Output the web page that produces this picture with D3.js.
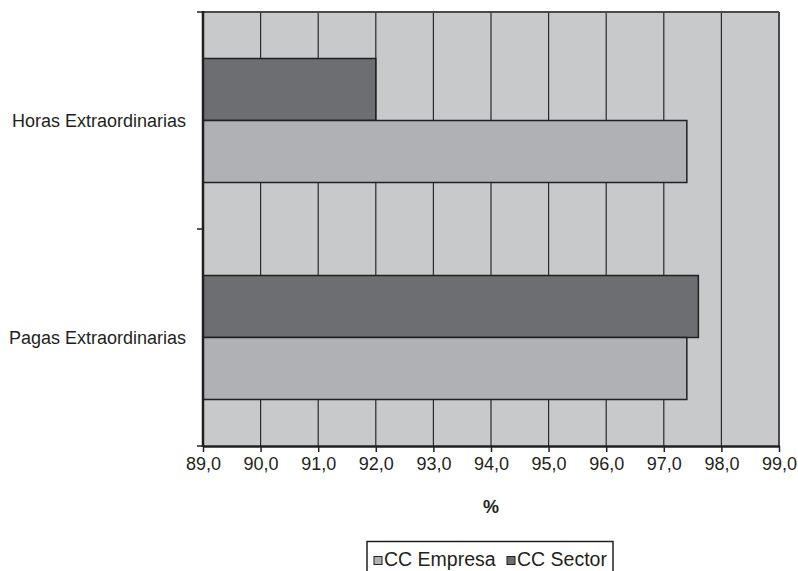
<!DOCTYPE html>
<html>
<head>
<meta charset="utf-8">
<script src="https://cdn.jsdelivr.net/npm/d3@7"></script>
<style>
  body { margin: 0; background: #fff; }
  svg { display: block; font-family: "Liberation Sans", Arial, sans-serif; }
</style>
</head>
<body>
<svg id="chart" width="798" height="571"></svg>
<script>
// Categories from top to bottom
const categories = ["Horas Extraordinarias", "Pagas Extraordinarias"];
// Series (drawn top to bottom within each category: Sector, then Empresa)
const seriesNames = ["CC Empresa", "CC Sector"];
const empresaValues = [97.4, 97.4];
const sectorValues = [92.0, 97.6];
const xTickValues = [89, 90, 91, 92, 93, 94, 95, 96, 97, 98, 99];
const axisTitle = "%";

const colors = { "CC Empresa": "#b0b1b4", "CC Sector": "#6d6e71" };

const svg = d3.select("#chart");
const margin = { left: 203, right: 19, top: 12, bottom: 125 };
const W = 798, H = 571;
const plotW = W - margin.left - margin.right;
const plotH = H - margin.top - margin.bottom;

const x = d3.scaleLinear().domain([89, 99]).range([0, plotW]);
const y = d3.scaleBand().domain(categories).range([0, plotH]).paddingInner(0).paddingOuter(0);
const inner = d3.scaleBand().domain(["CC Sector", "CC Empresa"])
  .range([0, y.bandwidth()]).paddingInner(0).paddingOuter(0.75);

const g = svg.append("g").attr("transform", `translate(${margin.left},${margin.top})`);

// plot background
g.append("rect").attr("x", 0).attr("y", 0).attr("width", plotW).attr("height", plotH)
  .attr("fill", "#c8c9cb");

// vertical gridlines
g.selectAll("line.grid").data(xTickValues.slice(1, -1)).join("line")
  .attr("class", "grid")
  .attr("x1", d => x(d)).attr("x2", d => x(d))
  .attr("y1", 0).attr("y2", plotH)
  .attr("stroke", "#2a2a2c").attr("stroke-width", 1.2);

// bars
const rows = [];
categories.forEach((c, i) => {
  rows.push({ cat: c, series: "CC Sector", value: sectorValues[i] });
  rows.push({ cat: c, series: "CC Empresa", value: empresaValues[i] });
});
g.selectAll("rect.bar").data(rows).join("rect")
  .attr("class", "bar")
  .attr("x", x(89))
  .attr("y", d => y(d.cat) + inner(d.series))
  .attr("width", d => x(d.value) - x(89))
  .attr("height", inner.bandwidth())
  .attr("fill", d => colors[d.series])
  .attr("stroke", "#231f20").attr("stroke-width", 1.5);

// plot border (top / right)
g.append("line").attr("x1", 0).attr("x2", plotW).attr("y1", 0).attr("y2", 0)
  .attr("stroke", "#4a4a4c").attr("stroke-width", 2);
g.append("line").attr("x1", plotW).attr("x2", plotW).attr("y1", 0).attr("y2", plotH)
  .attr("stroke", "#4a4a4c").attr("stroke-width", 2);

// x axis
const xAxis = d3.axisBottom(x).tickValues(xTickValues)
  .tickFormat(d => d3.format(".1f")(d).replace(".", ","))
  .tickSize(6).tickSizeOuter(0);
const gx = g.append("g").attr("transform", `translate(0,${plotH})`).call(xAxis);
gx.select(".domain").attr("stroke", "#231f20").attr("stroke-width", 2.5);
gx.selectAll(".tick line").attr("stroke", "#231f20").attr("stroke-width", 1.5);
gx.selectAll(".tick text").attr("font-size", 18).attr("fill", "#231f20")
  .attr("dy", "0").attr("y", 23.5);

// y axis: ticks at category boundaries, labels at category centres
g.append("line").attr("x1", 0).attr("x2", 0).attr("y1", -1).attr("y2", plotH + 1)
  .attr("stroke", "#231f20").attr("stroke-width", 2.5);
const boundaries = [0, ...categories.map(c => y(c) + y.bandwidth())];
g.selectAll("line.ytick").data(boundaries).join("line")
  .attr("class", "ytick")
  .attr("x1", -6).attr("x2", 0)
  .attr("y1", d => d).attr("y2", d => d)
  .attr("stroke", "#231f20").attr("stroke-width", 1.5);
g.selectAll("text.ylab").data(categories).join("text")
  .attr("class", "ylab")
  .attr("x", -17)
  .attr("y", d => y(d) + y.bandwidth() / 2)
  .attr("dy", "0.35em")
  .attr("text-anchor", "end")
  .attr("font-size", 18).attr("fill", "#231f20")
  .text(d => d);

// axis title
svg.append("text")
  .attr("x", margin.left + plotW / 2).attr("y", 512.5)
  .attr("text-anchor", "middle")
  .attr("font-size", 18).attr("font-weight", "bold").attr("fill", "#231f20")
  .text(axisTitle);

// legend
const legend = svg.append("g").attr("transform", "translate(367,541.5)");
legend.append("rect").attr("x", 0).attr("y", 0).attr("width", 246).attr("height", 34)
  .attr("fill", "#fff").attr("stroke", "#231f20").attr("stroke-width", 1.5);
const legendX = [7, 140];
seriesNames.forEach((s, i) => {
  legend.append("rect").attr("x", legendX[i]).attr("y", 15).attr("width", 8).attr("height", 8)
    .attr("fill", colors[s]).attr("stroke", "#231f20").attr("stroke-width", 1);
  legend.append("text").attr("x", legendX[i] + 10).attr("y", 24.5)
    .attr("font-size", 19.5).attr("fill", "#231f20").text(s);
});
</script>
</body>
</html>
